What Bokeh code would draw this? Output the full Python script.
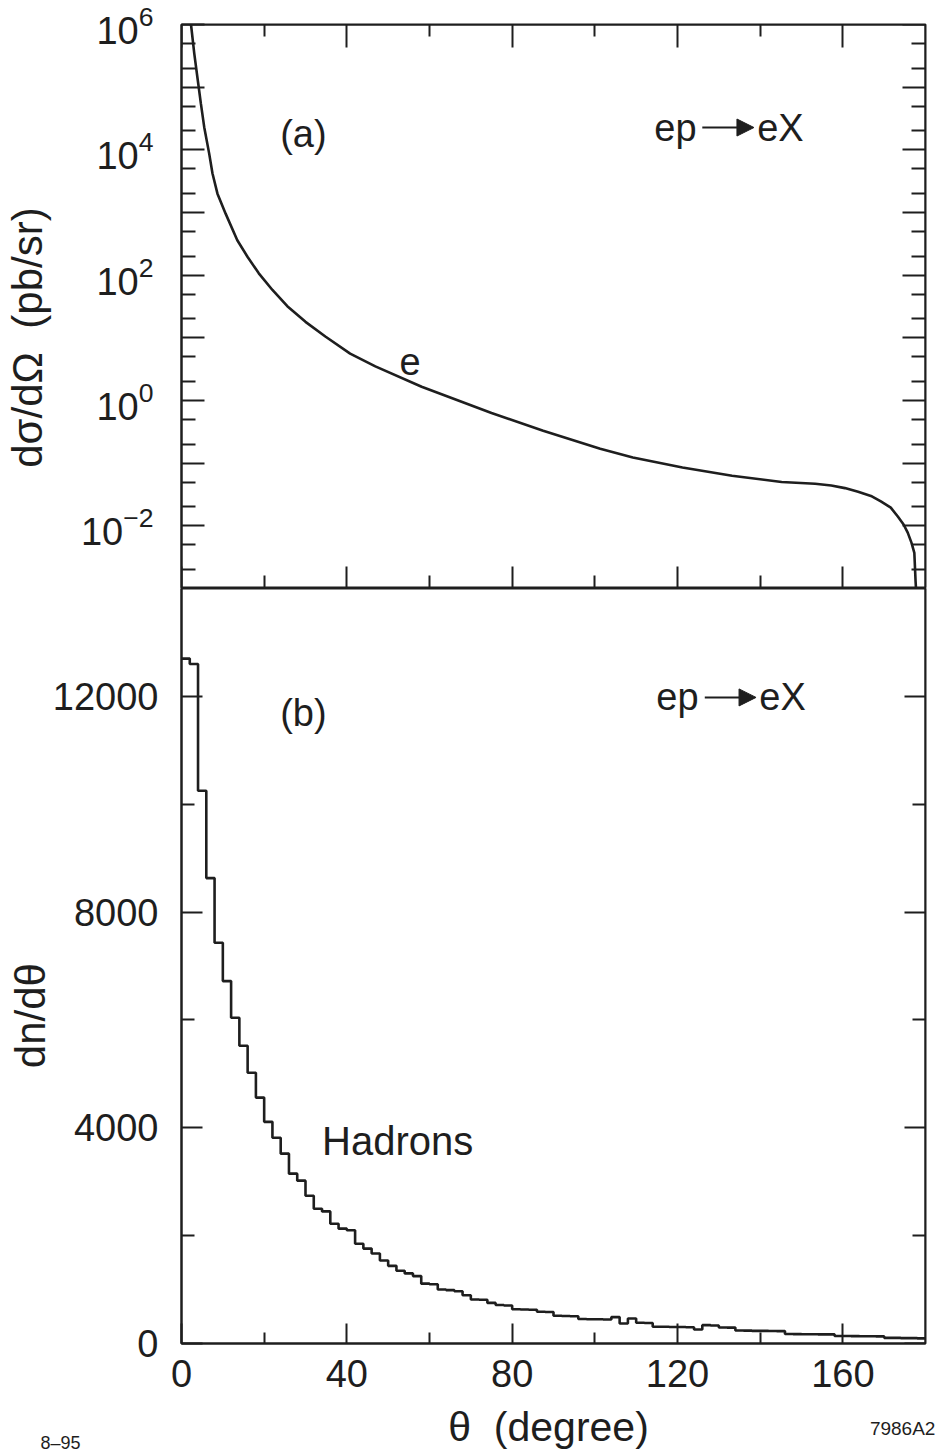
import math
from bokeh.plotting import figure
from bokeh.models import (LogAxis, LinearAxis, FixedTicker, Label, Range1d,
                          LogTickFormatter, CustomJSTickFormatter, Arrow, NormalHead)
from bokeh.layouts import column
from bokeh.embed import file_html
from bokeh.resources import INLINE

FONT = "Liberation Sans"
INK = "#1e1e1e"

# ---------------- data: panel (a) electron angular distribution ----------------
theta_e = [2.3, 3.1, 3.9, 4.7, 5.5, 6.7, 7.5, 8.7, 10.7, 13.5, 16.0, 18.7, 22.0,
           25.6, 30.0, 34.8, 40.8, 46.9, 58.1, 75.0, 87.5, 101.3, 109.2, 121.2,
           133.2, 145.2, 153.3, 157.2, 160.5, 163.7, 166.8, 169.2, 171.6, 173.3,
           174.7, 175.7, 176.6, 177.3, 177.6, 177.7]
dsigma_e = [1.0e6, 3.4e5, 1.35e5, 5.4e4, 2.3e4, 8.7e3, 4.2e3, 2.0e3, 9.5e2, 3.6e2,
            1.95e2, 1.07e2, 58, 32, 18, 10.5, 5.6, 3.5, 1.66, 0.63, 0.33, 0.17,
            0.123, 0.085, 0.063, 0.050, 0.047, 0.044, 0.040, 0.035, 0.030, 0.0245,
            0.0195, 0.0141, 0.0105, 0.0078, 0.0054, 0.0037, 0.0013, 0.001]

# ---------------- data: panel (b) hadron histogram (2 degree bins) ----------------
bin_width = 2
bin_left = list(range(0, 180, bin_width))
hadron_counts = [
    12700, 12600, 10250, 8630, 7430, 6720, 6040, 5520, 5020, 4560,
    4110, 3815, 3520, 3150, 3020, 2740, 2500, 2450, 2220, 2130,
    2100, 1850, 1760, 1670, 1540, 1440, 1350, 1300, 1250, 1110,
    1100, 1000, 990, 970, 895, 815, 810, 753, 715, 705,
    635, 630, 625, 590, 585, 515, 510, 505, 455, 450,
    450, 445, 490, 370, 463, 385, 380, 310, 310, 305,
    305, 300, 260, 340, 335, 296, 295, 240, 238, 235,
    235, 232, 230, 175, 173, 172, 172, 170, 170, 140,
    138, 136, 135, 135, 133, 105, 105, 100, 100, 95,
]

# ---------------- ticks ----------------
x_major = [0, 40, 80, 120, 160]
x_minor = [20, 60, 100, 140]
log_major = [1e-3, 1e-2, 1e-1, 1e0, 1e1, 1e2, 1e3, 1e4, 1e5, 1e6]
log_unlabeled = [1e-3, 1e-1, 1e1, 1e3, 1e5]
log_minor = [m * 10.0 ** d for d in range(-3, 6) for m in (2, 5)]
lin_major = [0, 4000, 8000, 12000]
lin_minor = [2000, 6000, 10000]

# ---------------- layout geometry (pixels) ----------------
W, H = 939, 1453
LEFT, RIGHT = 181, 14
PX_PER_DEG = (W - LEFT - RIGHT) / 180.0
P1_H = 588
P2_H, P2_BOTTOM = 812, 57
STRIP_H = H - P1_H - P2_H


def style_axis(ax, major_in, minor_in, labels=True):
    ax.major_tick_in = major_in
    ax.major_tick_out = 0
    ax.minor_tick_in = minor_in
    ax.minor_tick_out = 0
    ax.axis_line_color = INK
    ax.axis_line_width = 2
    ax.major_tick_line_color = INK
    ax.major_tick_line_width = 2
    ax.minor_tick_line_color = INK
    ax.minor_tick_line_width = 2
    ax.major_label_text_font = FONT
    ax.major_label_text_font_size = "38px"
    ax.major_label_text_color = INK
    if not labels:
        ax.formatter = CustomJSTickFormatter(code="return ''")
        ax.major_label_standoff = 0


def base_fig(height, top, bottom, y_range, log=False):
    p = figure(width=W, height=height, x_range=Range1d(0, 180), y_range=y_range,
               y_axis_type="log" if log else "linear",
               x_axis_location=None, y_axis_location=None,
               output_backend="svg", toolbar_location=None,
               min_border_left=LEFT, min_border_right=RIGHT,
               min_border_top=top, min_border_bottom=bottom)
    p.outline_line_color = INK
    p.outline_line_width = 2
    p.background_fill_color = "white"
    p.border_fill_color = "white"
    p.xgrid.visible = False
    p.ygrid.visible = False
    return p


lab_kw = dict(text_font=FONT, text_color=INK, text_align="center", text_baseline="middle")


def reaction(p, x_ep, x_ex, x_a0, x_a1, y):
    p.add_layout(Label(x=x_ep, y=y, text="ep", text_font_size="38px", **lab_kw))
    p.add_layout(Label(x=x_ex, y=y, text="eX", text_font_size="38px", **lab_kw))
    p.add_layout(Arrow(x_start=x_a0, y_start=y, x_end=x_a1, y_end=y,
                       line_color=INK, line_width=2,
                       end=NormalHead(size=17, fill_color=INK, line_color=INK, line_width=1)))


# ================= panel (a) =================
p1 = base_fig(P1_H, 24, 0, Range1d(1e-3, 1e6), log=True)

yl = LogAxis(ticker=FixedTicker(ticks=log_major, minor_ticks=log_minor),
             formatter=LogTickFormatter(),
             major_label_overrides={v: "" for v in log_unlabeled})
style_axis(yl, 23, 14)
yl.major_label_standoff = 28
p1.add_layout(yl, "left")

yr = LogAxis(ticker=FixedTicker(ticks=log_major, minor_ticks=log_minor), fixed_location=180)
style_axis(yr, 23, 14, labels=False)
p1.add_layout(yr, "right")

xb1 = LinearAxis(ticker=FixedTicker(ticks=x_major, minor_ticks=x_minor), fixed_location=1e-3)
style_axis(xb1, 22, 13, labels=False)
p1.add_layout(xb1, "below")

xt1 = LinearAxis(ticker=FixedTicker(ticks=x_major, minor_ticks=x_minor), fixed_location=1e6)
style_axis(xt1, 23, 12, labels=False)
p1.add_layout(xt1, "above")

p1.line(theta_e, dsigma_e, line_color=INK, line_width=2.6)

p1.add_layout(Label(x=29.5, y=1.8e4, text="(a)", text_font_size="38px", **lab_kw))
p1.add_layout(Label(x=55.3, y=4.2, text="e", text_font_size="38px", **lab_kw))
reaction(p1, 119.5, 144.9, 126.0, 138.5, 2.27e4)
p1.add_layout(Label(x=-37.3, y=10.1, text="dσ/dΩ\u00a0\u00a0(pb/sr)", angle=math.pi / 2,
                    text_font_size="42px", **lab_kw), "left")

# ================= panel (b) =================
p2 = base_fig(P2_H, 0, P2_BOTTOM, Range1d(0, 14000))

yl2 = LinearAxis(ticker=FixedTicker(ticks=lin_major, minor_ticks=lin_minor))
style_axis(yl2, 21, 13)
yl2.major_label_standoff = 23
p2.add_layout(yl2, "left")

yr2 = LinearAxis(ticker=FixedTicker(ticks=lin_major, minor_ticks=lin_minor), fixed_location=180)
style_axis(yr2, 21, 13, labels=False)
p2.add_layout(yr2, "right")

xb2 = LinearAxis(ticker=FixedTicker(ticks=x_major, minor_ticks=x_minor))
style_axis(xb2, 20, 11)
xb2.major_label_standoff = 16
p2.add_layout(xb2, "below")

# step outline of the histogram
step_x, step_y = [], []
for left, cnt in zip(bin_left, hadron_counts):
    step_x += [left, left + bin_width]
    step_y += [cnt, cnt]
p2.line(step_x, step_y, line_color=INK, line_width=2.6)

p2.add_layout(Label(x=29.5, y=11700, text="(b)", text_font_size="38px", **lab_kw))
p2.add_layout(Label(x=52.3, y=3760, text="Hadrons", text_font_size="40px", **lab_kw))
reaction(p2, 120.0, 145.4, 126.6, 139.0, 11980)
p2.add_layout(Label(x=-36.5, y=6080, text="dn/dθ", angle=math.pi / 2,
                    text_font_size="42px", **lab_kw), "left")

# ================= bottom strip: axis title and figure codes =================
p3 = figure(width=W, height=STRIP_H,
            x_range=Range1d(-LEFT / PX_PER_DEG, (W - LEFT) / PX_PER_DEG),
            y_range=Range1d(0, STRIP_H),
            x_axis_location=None, y_axis_location=None,
            output_backend="svg", toolbar_location=None,
            min_border_left=0, min_border_right=0, min_border_top=0, min_border_bottom=0)
try:
    p3.frame_align = False
except AttributeError:
    pass
p3.outline_line_color = None
p3.background_fill_color = "white"
p3.border_fill_color = "white"
p3.xgrid.visible = False
p3.ygrid.visible = False
p3.add_layout(Label(x=88.8, y=STRIP_H - 26, text="θ\u00a0\u00a0(degree)",
                    text_font_size="41px", **lab_kw))
p3.add_layout(Label(x=182.4, y=STRIP_H - 28, text="7986A2", text_font=FONT, text_color=INK,
                    text_font_size="19px", text_align="right", text_baseline="middle"))
p3.add_layout(Label(x=-34.1, y=0.5, text="8–95", text_font=FONT, text_color=INK,
                    text_font_size="18px", text_align="left", text_baseline="bottom"))

layout = column(p1, p2, p3, spacing=0)
open("out.html", "w").write(file_html(layout, INLINE))
